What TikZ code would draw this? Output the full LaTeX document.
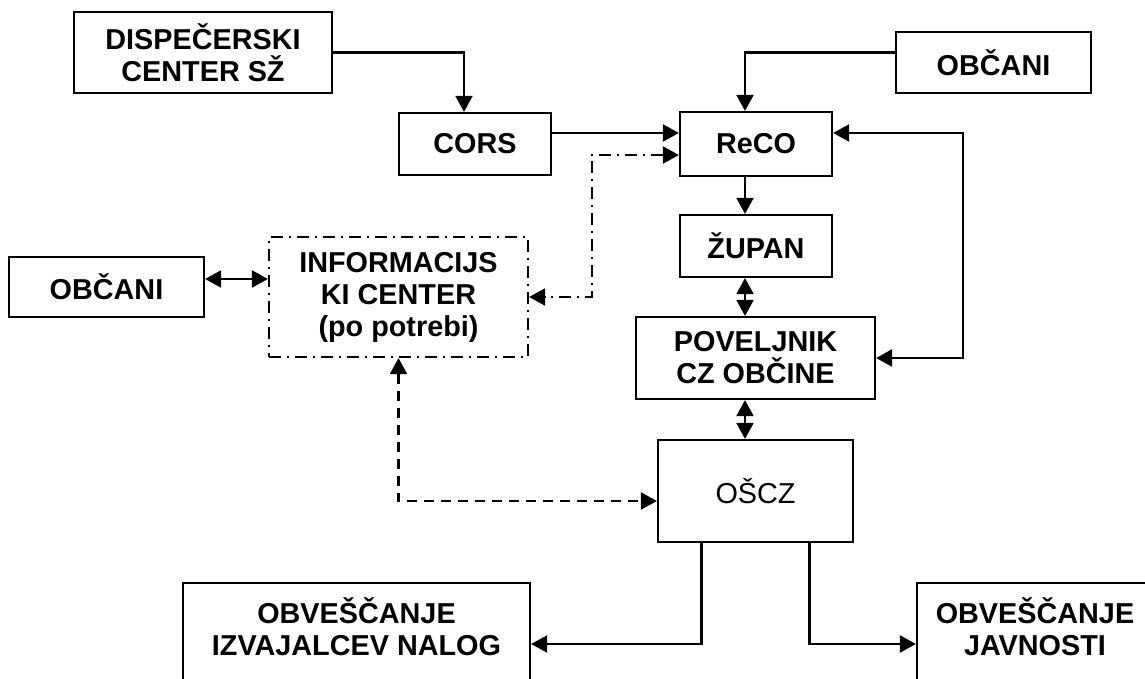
\documentclass[tikz,border=0pt]{standalone}
\usepackage{fontspec}
\setmainfont{Liberation Sans}
\usetikzlibrary{arrows.meta}

\begin{document}
\begin{tikzpicture}[x=1pt, y=-1pt, line width=2.1pt, >={Triangle[length=16pt,width=17pt]},
        every node/.style={font=\fontsize{28.8pt}{32pt}\selectfont\bfseries, align=center, inner sep=0pt},
        box/.style={draw, line width=2.2pt},
        dashdot/.style={dash pattern=on 12pt off 6pt on 2pt off 6pt}]
                \useasboundingbox (0,0) rectangle (1145,679);
                \clip (0,0) rectangle (1145,679);

                \node[box, minimum width=258pt, minimum height=81pt] (DSZ) at (203,52.5) {DISPEČERSKI\\CENTER SŽ};
                \node[box, minimum width=152pt, minimum height=62pt] (CORS) at (475,144) {CORS};
                \node[box, minimum width=152pt, minimum height=64pt] (ReCO) at (756,144) {ReCO};
                \node[box, minimum width=195pt, minimum height=61pt] (OBa) at (993.5,62.5) {OBČANI};
                \node[box, minimum width=152pt, minimum height=62pt] (ZUP) at (756,246) {ŽUPAN};
                \node[box, dashdot, minimum width=259pt, minimum height=120pt] (INF) at (398.5,297) {INFORMACIJS\\KI CENTER\\(po potrebi)};
                \node[box, minimum width=195pt, minimum height=60pt] (OBb) at (106.5,287) {OBČANI};
                \node[box, minimum width=239pt, minimum height=82pt] (POV) at (755.5,358) {POVELJNIK\\CZ OBČINE};
                \node[box, minimum width=195pt, minimum height=102pt, font=\fontsize{28.8pt}{32pt}\selectfont] (OSCZ) at (755.5,491) {OŠCZ};
                \node[box, minimum width=347pt, minimum height=140pt,
                      label={[yshift=26pt]center:OBVEŠČANJE\\IZVAJALCEV NALOG}] (IZV) at (356.5,653) {};
                \node[box, minimum width=236pt, minimum height=140pt,
                      label={[yshift=26pt]center:OBVEŠČANJE\\JAVNOSTI}] (JAV) at (1035,653) {};

                \draw[->] (DSZ.east) -| ([xshift=-11pt]CORS.north);
                \draw[->] ([yshift=10pt]OBa.west) -| ([xshift=-11pt]ReCO.north);
                \draw[->] ([yshift=11pt]CORS.east) -- ([yshift=11pt]ReCO.west);
                \draw[<->] ([yshift=11pt]ReCO.east) -- ++(130,0) |- (POV.east);
                \draw[->] ([xshift=-11pt]ReCO.south) -- ([xshift=-11pt]ZUP.north);
                \draw[<->] ([xshift=-11pt]ZUP.south) -- ([xshift=-10.5pt]POV.north);
                \draw[<->] ([xshift=-10.5pt]POV.south) -- ([xshift=-10.5pt]OSCZ.north);
                \draw[<->, dashdot] ([yshift=-11pt]ReCO.west) -- ++(-87,0) |- (INF.east);
                \draw[<->] ([yshift=8pt]OBb.east) -- ([yshift=18pt]INF.west);
                \draw[<->, dash pattern=on 10pt off 7pt] (INF.south) |- ([yshift=-10pt]OSCZ.west);
                \draw[->] ([xshift=-54pt]OSCZ.south) |- ([yshift=9pt]IZV.east);
                \draw[->] ([xshift=54pt]OSCZ.south) |- ([yshift=9pt]JAV.west);
            \end{tikzpicture}
\end{document}
